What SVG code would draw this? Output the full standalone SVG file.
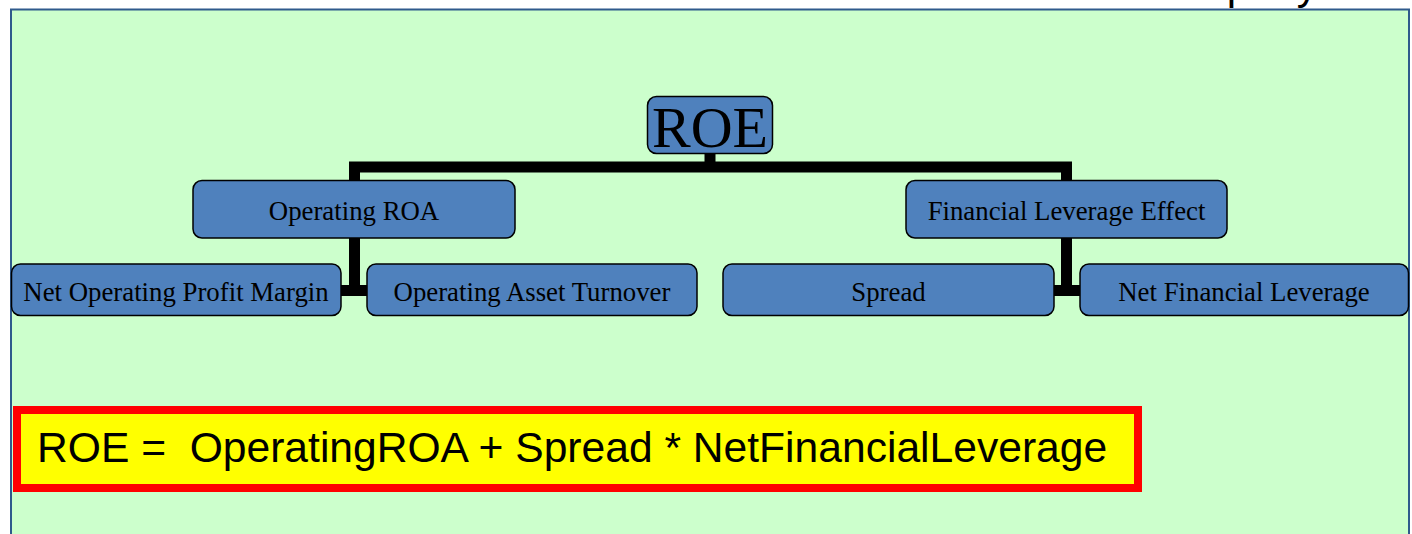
<svg xmlns="http://www.w3.org/2000/svg" width="1412" height="534" viewBox="0 0 1412 534">
  <style>
    .node rect { fill: #4F81BD; stroke: #000; stroke-width: 1.5; }
    .node text { font-family: "Liberation Serif", "Times New Roman", serif; font-size: 26.8px; fill: #000; text-anchor: middle; }
    .link { fill: none; stroke: #000; stroke-width: 11; stroke-linejoin: miter; stroke-linecap: butt; }
  </style>

  <!-- page background and title strip -->
  <rect x="0" y="0" width="1412" height="534" fill="#FFFFFF"/>
  <text x="1138" y="-1" font-family="Liberation Sans, Arial, sans-serif" font-size="42" fill="#000">Company</text>

  <!-- green panel -->
  <rect id="panel" x="11" y="9.5" width="1398" height="540" fill="#CCFFCC" stroke="#2F5A8C" stroke-width="2"/>

  <!-- connectors -->
  <g id="connectors">
    <path class="link" d="M710 154 V167"/>
    <path class="link" d="M354.5 181 V167 H1066.5 V181"/>
    <path class="link" d="M354.5 238 V290.5 M341 290.5 H367"/>
    <path class="link" d="M1066.5 238 V290.5 M1054 290.5 H1080"/>
  </g>

  <!-- root -->
  <g id="roe" class="node">
    <rect x="647.5" y="96.5" width="125" height="57" rx="9"/>
    <text x="710" y="147" style="font-size:58px">ROE</text>
  </g>

  <!-- second level -->
  <g id="operating-roa" class="node">
    <rect x="193" y="180.5" width="322" height="57.5" rx="9"/>
    <text x="354" y="220">Operating ROA</text>
  </g>
  <g id="financial-leverage-effect" class="node">
    <rect x="906" y="180.5" width="321" height="57.5" rx="9"/>
    <text x="1066.5" y="220">Financial Leverage Effect</text>
  </g>

  <!-- third level -->
  <g id="net-operating-profit-margin" class="node">
    <rect x="11.5" y="264" width="329.5" height="51.5" rx="9"/>
    <text x="176" y="301">Net Operating Profit Margin</text>
  </g>
  <g id="operating-asset-turnover" class="node">
    <rect x="367" y="264" width="330" height="51.5" rx="9"/>
    <text x="532" y="301">Operating Asset Turnover</text>
  </g>
  <g id="spread" class="node">
    <rect x="723" y="264" width="331" height="51.5" rx="9"/>
    <text x="888.5" y="301">Spread</text>
  </g>
  <g id="net-financial-leverage" class="node">
    <rect x="1080" y="264" width="328.5" height="51.5" rx="9"/>
    <text x="1244" y="301">Net Financial Leverage</text>
  </g>

  <!-- formula -->
  <g id="formula">
    <rect x="17" y="410" width="1121" height="78" fill="#FFFF00" stroke="#FF0000" stroke-width="8"/>
    <text x="37" y="462" font-family="Liberation Sans, Arial, sans-serif" font-size="42.6" fill="#000" xml:space="preserve">ROE =  OperatingROA + Spread * NetFinancialLeverage</text>
  </g>
</svg>
